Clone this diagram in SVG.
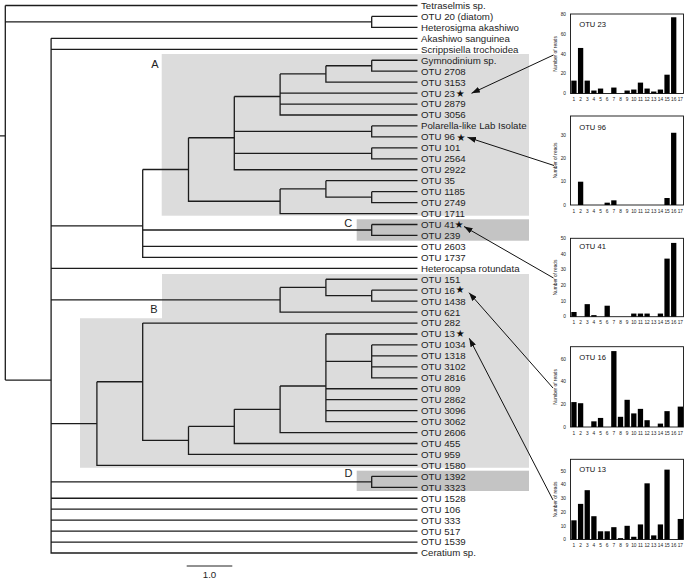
<svg xmlns="http://www.w3.org/2000/svg" width="685" height="580" viewBox="0 0 685 580">
<style>
.br{fill:none;stroke:#1c1c1c;stroke-width:1.3}
.lf{font-family:"Liberation Sans",Arial,sans-serif;font-size:9.7px;fill:#1e1e1e}
.st{font-family:"DejaVu Sans",sans-serif;font-size:10px;fill:#111;text-anchor:middle}
.cl{font-family:"Liberation Sans",Arial,sans-serif;font-size:11px;fill:#222;text-anchor:middle}
.lg{fill:#dcdcdc}
.dk{fill:#c4c4c4}
.box{fill:#fff;stroke:#111;stroke-width:0.9}
.bar{fill:#000}
.tk{font-family:"Liberation Sans",Arial,sans-serif;font-size:4.8px;fill:#222}
.tr{text-anchor:end}
.xm{text-anchor:middle}
.yl{font-family:"Liberation Sans",Arial,sans-serif;font-size:4.8px;fill:#222;text-anchor:middle}
.ttl{font-family:"Liberation Sans",Arial,sans-serif;font-size:7.6px;fill:#111}
.ar{fill:none;stroke:#111;stroke-width:1;marker-end:url(#ah)}
.sc{fill:none;stroke:#222;stroke-width:1}
</style>
<defs>
<marker id="ah" markerUnits="userSpaceOnUse" markerWidth="9" markerHeight="6" refX="8.5" refY="3" orient="auto">
<path d="M0,0 L8.5,3 L0,6 Z" fill="#111"/>
</marker>
</defs>
<rect width="685" height="580" fill="#fff"/>

<g id="clades">
<g id="clade-A"><rect class="lg" x="161.7" y="54" width="367.3" height="161.7"/><text class="cl" x="155" y="67.5">A</text></g>
<g id="clade-B"><path class="lg" d="M162 274 H529 V467.7 H80 V318.3 H162 Z"/><text class="cl" x="154" y="313">B</text></g>
<g id="clade-C"><rect class="dk" x="356.7" y="219.3" width="172.3" height="21.4"/><text class="cl" x="348.3" y="226.8">C</text></g>
<g id="clade-D"><rect class="dk" x="356.7" y="470.7" width="172.3" height="20.3"/><text class="cl" x="348.5" y="477">D</text></g>
</g>

<g id="connectors">
<g id="tree">
<path class="br" d="M5.3 5.5 V380.05 M5.3 5.5 H417.5 M5.3 21.93 H371.7 M5.3 380.05 H51.1 M0 135.83 H5.3"/>
<path class="br" d="M371.7 16.45 V27.4 H417.5 M371.7 16.45 H417.5"/>
<path class="br" d="M51.1 38.35 V553 H417.5 M51.1 38.35 H417.5 M51.1 49.3 H417.5 M51.1 225.8 H142.7 M51.1 268.3 H417.5 M51.1 299.78 H280.1 M51.1 423.57 H96.9 M51.1 481.83 H371.7 M51.1 498.25 H417.5 M51.1 509.2 H417.5 M51.1 520.15 H417.5 M51.1 531.1 H417.5 M51.1 542.05 H417.5"/>
<path class="br" d="M142.7 169.49 V257.35 H417.5 M142.7 169.49 H188.5 M142.7 229.98 H371.7 M142.7 246.4 H417.5"/>
<path class="br" d="M188.5 137.76 V201.23 H280.1 M188.5 137.76 H234.3"/>
<path class="br" d="M234.3 96.52 V169.75 H417.5 M234.3 96.52 H280.1 M234.3 131.43 H371.7 M234.3 153.33 H371.7"/>
<path class="br" d="M280.1 73.94 V115 H417.5 M280.1 73.94 H325.9 M280.1 93.1 H417.5 M280.1 104.05 H417.5"/>
<path class="br" d="M325.9 65.73 V82.15 H417.5 M325.9 65.73 H371.7"/>
<path class="br" d="M371.7 60.25 V71.2 H417.5 M371.7 60.25 H417.5"/>
<path class="br" d="M371.7 125.95 V136.9 H417.5 M371.7 125.95 H417.5"/>
<path class="br" d="M371.7 147.85 V158.8 H417.5 M371.7 147.85 H417.5"/>
<path class="br" d="M280.1 188.91 V213.55 H417.5 M280.1 188.91 H325.9"/>
<path class="br" d="M325.9 180.7 V197.13 H371.7 M325.9 180.7 H417.5"/>
<path class="br" d="M371.7 191.65 V202.6 H417.5 M371.7 191.65 H417.5"/>
<path class="br" d="M371.7 224.5 V235.45 H417.5 M371.7 224.5 H417.5"/>
<path class="br" d="M280.1 287.46 V312.1 H417.5 M280.1 287.46 H325.9"/>
<path class="br" d="M325.9 279.25 V295.68 H371.7 M325.9 279.25 H417.5"/>
<path class="br" d="M371.7 290.2 V301.15 H417.5 M371.7 290.2 H417.5"/>
<path class="br" d="M96.9 381.74 V465.4 H417.5 M96.9 381.74 H142.7"/>
<path class="br" d="M142.7 323.05 V440.42 H188.5 M142.7 323.05 H417.5"/>
<path class="br" d="M188.5 426.39 V454.45 H417.5 M188.5 426.39 H234.3"/>
<path class="br" d="M234.3 409.28 V443.5 H417.5 M234.3 409.28 H280.1"/>
<path class="br" d="M280.1 386.01 V432.55 H417.5 M280.1 386.01 H325.9"/>
<path class="br" d="M325.9 334 V421.6 H417.5 M325.9 334 H417.5 M325.9 361.38 H371.7 M325.9 388.75 H417.5 M325.9 399.7 H417.5 M325.9 410.65 H417.5"/>
<path class="br" d="M371.7 344.95 V377.8 H417.5 M371.7 344.95 H417.5 M371.7 355.9 H417.5 M371.7 366.85 H417.5"/>
<path class="br" d="M371.7 476.35 V487.3 H417.5 M371.7 476.35 H417.5"/>
</g>
<g id="arrows">
<line class="ar" x1="553.5" y1="55" x2="471.5" y2="93.3"/>
<line class="ar" x1="554" y1="165.5" x2="467.5" y2="137.3"/>
<line class="ar" x1="553.5" y1="278" x2="464" y2="226.5"/>
<line class="ar" x1="553" y1="388" x2="469" y2="292.7"/>
<line class="ar" x1="553" y1="500" x2="469.3" y2="338.3"/>
</g>
</g>

<g id="leaves">
<g id="l0"><text class="lf" x="421" y="8.9">Tetraselmis sp.</text></g>
<g id="l1"><text class="lf" x="421" y="19.85">OTU 20 (diatom)</text></g>
<g id="l2"><text class="lf" x="421" y="30.8">Heterosigma akashiwo</text></g>
<g id="l3"><text class="lf" x="421" y="41.75">Akashiwo sanguinea</text></g>
<g id="l4"><text class="lf" x="421" y="52.7">Scrippsiella trochoidea</text></g>
<g id="l5"><text class="lf" x="421" y="63.65">Gymnodinium sp.</text></g>
<g id="l6"><text class="lf" x="421" y="74.6">OTU 2708</text></g>
<g id="l7"><text class="lf" x="421" y="85.55">OTU 3153</text></g>
<g id="l8"><text class="lf" x="421" y="96.5">OTU 23</text><text class="st" x="460.3" y="96.8">★</text></g>
<g id="l9"><text class="lf" x="421" y="107.45">OTU 2879</text></g>
<g id="l10"><text class="lf" x="421" y="118.4">OTU 3056</text></g>
<g id="l11"><text class="lf" x="421" y="129.35">Polarella-like Lab Isolate</text></g>
<g id="l12"><text class="lf" x="421" y="140.3">OTU 96</text><text class="st" x="461" y="140.6">★</text></g>
<g id="l13"><text class="lf" x="421" y="151.25">OTU 101</text></g>
<g id="l14"><text class="lf" x="421" y="162.2">OTU 2564</text></g>
<g id="l15"><text class="lf" x="421" y="173.15">OTU 2922</text></g>
<g id="l16"><text class="lf" x="421" y="184.1">OTU 35</text></g>
<g id="l17"><text class="lf" x="421" y="195.05">OTU 1185</text></g>
<g id="l18"><text class="lf" x="421" y="206">OTU 2749</text></g>
<g id="l19"><text class="lf" x="421" y="216.95">OTU 1711</text></g>
<g id="l20"><text class="lf" x="421" y="227.9">OTU 41</text><text class="st" x="459" y="227.6">★</text></g>
<g id="l21"><text class="lf" x="421" y="238.85">OTU 239</text></g>
<g id="l22"><text class="lf" x="421" y="249.8">OTU 2603</text></g>
<g id="l23"><text class="lf" x="421" y="260.75">OTU 1737</text></g>
<g id="l24"><text class="lf" x="421" y="271.7">Heterocapsa rotundata</text></g>
<g id="l25"><text class="lf" x="421" y="282.65">OTU 151</text></g>
<g id="l26"><text class="lf" x="421" y="293.6">OTU 16</text><text class="st" x="460" y="293.3">★</text></g>
<g id="l27"><text class="lf" x="421" y="304.55">OTU 1438</text></g>
<g id="l28"><text class="lf" x="421" y="315.5">OTU 621</text></g>
<g id="l29"><text class="lf" x="421" y="326.45">OTU 282</text></g>
<g id="l30"><text class="lf" x="421" y="337.4">OTU 13</text><text class="st" x="460.3" y="337.4">★</text></g>
<g id="l31"><text class="lf" x="421" y="348.35">OTU 1034</text></g>
<g id="l32"><text class="lf" x="421" y="359.3">OTU 1318</text></g>
<g id="l33"><text class="lf" x="421" y="370.25">OTU 3102</text></g>
<g id="l34"><text class="lf" x="421" y="381.2">OTU 2816</text></g>
<g id="l35"><text class="lf" x="421" y="392.15">OTU 809</text></g>
<g id="l36"><text class="lf" x="421" y="403.1">OTU 2862</text></g>
<g id="l37"><text class="lf" x="421" y="414.05">OTU 3096</text></g>
<g id="l38"><text class="lf" x="421" y="425">OTU 3062</text></g>
<g id="l39"><text class="lf" x="421" y="435.95">OTU 2606</text></g>
<g id="l40"><text class="lf" x="421" y="446.9">OTU 455</text></g>
<g id="l41"><text class="lf" x="421" y="457.85">OTU 959</text></g>
<g id="l42"><text class="lf" x="421" y="468.8">OTU 1580</text></g>
<g id="l43"><text class="lf" x="421" y="479.75">OTU 1392</text></g>
<g id="l44"><text class="lf" x="421" y="490.7">OTU 3323</text></g>
<g id="l45"><text class="lf" x="421" y="501.65">OTU 1528</text></g>
<g id="l46"><text class="lf" x="421" y="512.6">OTU 106</text></g>
<g id="l47"><text class="lf" x="421" y="523.55">OTU 333</text></g>
<g id="l48"><text class="lf" x="421" y="534.5">OTU 517</text></g>
<g id="l49"><text class="lf" x="421" y="545.45">OTU 1539</text></g>
<g id="l50"><text class="lf" x="421" y="556.4">Ceratium sp.</text></g>
</g>

<g id="scalebar">
<path class="sc" d="M186.7 566 H232.3"/>
<text class="lf" x="209.5" y="578" text-anchor="middle" font-size="8.5">1.0</text>
</g>

<g id="chart-otu23">
<rect class="box" x="570.5" y="14" width="113" height="79.5"/>
<g class="bar" transform="translate(0,93.5) scale(1,-0.99)">
<rect x="571.3" y="0" width="5.3" height="13"/><rect x="577.95" y="0" width="5.3" height="46"/><rect x="584.6" y="0" width="5.3" height="13"/><rect x="591.25" y="0" width="5.3" height="3"/><rect x="597.9" y="0" width="5.3" height="5"/><rect x="611.2" y="0" width="5.3" height="6"/><rect x="624.5" y="0" width="5.3" height="3"/><rect x="631.15" y="0" width="5.3" height="4"/><rect x="637.8" y="0" width="5.3" height="11"/><rect x="644.45" y="0" width="5.3" height="5"/><rect x="651.1" y="0" width="5.3" height="2"/><rect x="657.75" y="0" width="5.3" height="4"/><rect x="664.4" y="0" width="5.3" height="19"/><rect x="671.05" y="0" width="5.3" height="77"/>
</g>
<text class="ttl" x="579.3" y="26.5">OTU 23</text>
<text class="yl" transform="translate(557.3,54) rotate(-90)">Number of reads</text>
<text class="tk tr"><tspan x="566" y="95.2">0</tspan><tspan x="566" y="75.4">20</tspan><tspan x="566" y="55.6">40</tspan><tspan x="566" y="35.8">60</tspan><tspan x="566" y="16">80</tspan></text>
<text class="tk xm" y="101"><tspan x="573.95">1</tspan><tspan x="580.6">2</tspan><tspan x="587.25">3</tspan><tspan x="593.9">4</tspan><tspan x="600.55">5</tspan><tspan x="607.2">6</tspan><tspan x="613.85">7</tspan><tspan x="620.5">8</tspan><tspan x="627.15">9</tspan><tspan x="633.8">10</tspan><tspan x="640.45">11</tspan><tspan x="647.1">12</tspan><tspan x="653.75">13</tspan><tspan x="660.4">14</tspan><tspan x="667.05">15</tspan><tspan x="673.7">16</tspan><tspan x="680.35">17</tspan></text>
</g>

<g id="chart-otu96">
<rect class="box" x="570.5" y="116" width="113" height="89"/>
<g class="bar" transform="translate(0,205) scale(1,-2.33)">
<rect x="577.95" y="0" width="5.3" height="10"/><rect x="604.55" y="0" width="5.3" height="1"/><rect x="611.2" y="0" width="5.3" height="2"/><rect x="664.4" y="0" width="5.3" height="3"/><rect x="671.05" y="0" width="5.3" height="31"/>
</g>
<text class="ttl" x="579.3" y="129.5">OTU 96</text>
<text class="yl" transform="translate(557.3,160.5) rotate(-90)">Number of reads</text>
<text class="tk tr"><tspan x="566" y="206.7">0</tspan><tspan x="566" y="183.4">10</tspan><tspan x="566" y="160.1">20</tspan><tspan x="566" y="136.8">30</tspan></text>
<text class="tk xm" y="212.5"><tspan x="573.95">1</tspan><tspan x="580.6">2</tspan><tspan x="587.25">3</tspan><tspan x="593.9">4</tspan><tspan x="600.55">5</tspan><tspan x="607.2">6</tspan><tspan x="613.85">7</tspan><tspan x="620.5">8</tspan><tspan x="627.15">9</tspan><tspan x="633.8">10</tspan><tspan x="640.45">11</tspan><tspan x="647.1">12</tspan><tspan x="653.75">13</tspan><tspan x="660.4">14</tspan><tspan x="667.05">15</tspan><tspan x="673.7">16</tspan><tspan x="680.35">17</tspan></text>
</g>

<g id="chart-otu41">
<rect class="box" x="570.5" y="238.3" width="113" height="78.4"/>
<g class="bar" transform="translate(0,316.7) scale(1,-1.57)">
<rect x="571.3" y="0" width="5.3" height="3"/><rect x="584.6" y="0" width="5.3" height="8"/><rect x="591.25" y="0" width="5.3" height="1"/><rect x="604.55" y="0" width="5.3" height="7"/><rect x="631.15" y="0" width="5.3" height="2"/><rect x="637.8" y="0" width="5.3" height="2"/><rect x="644.45" y="0" width="5.3" height="2"/><rect x="657.75" y="0" width="5.3" height="2"/><rect x="664.4" y="0" width="5.3" height="37"/><rect x="671.05" y="0" width="5.3" height="47"/>
</g>
<text class="ttl" x="579.3" y="248.5">OTU 41</text>
<text class="yl" transform="translate(557.3,277.5) rotate(-90)">Number of reads</text>
<text class="tk tr"><tspan x="566" y="318.4">0</tspan><tspan x="566" y="302.7">10</tspan><tspan x="566" y="287">20</tspan><tspan x="566" y="271.3">30</tspan><tspan x="566" y="255.6">40</tspan><tspan x="566" y="239.9">50</tspan></text>
<text class="tk xm" y="324.2"><tspan x="573.95">1</tspan><tspan x="580.6">2</tspan><tspan x="587.25">3</tspan><tspan x="593.9">4</tspan><tspan x="600.55">5</tspan><tspan x="607.2">6</tspan><tspan x="613.85">7</tspan><tspan x="620.5">8</tspan><tspan x="627.15">9</tspan><tspan x="633.8">10</tspan><tspan x="640.45">11</tspan><tspan x="647.1">12</tspan><tspan x="653.75">13</tspan><tspan x="660.4">14</tspan><tspan x="667.05">15</tspan><tspan x="673.7">16</tspan><tspan x="680.35">17</tspan></text>
</g>

<g id="chart-otu16">
<rect class="box" x="570.5" y="346.7" width="113" height="80.3"/>
<g class="bar" transform="translate(0,427) scale(1,-1.133)">
<rect x="571.3" y="0" width="5.3" height="22"/><rect x="577.95" y="0" width="5.3" height="21"/><rect x="591.25" y="0" width="5.3" height="5"/><rect x="597.9" y="0" width="5.3" height="8"/><rect x="611.2" y="0" width="5.3" height="67"/><rect x="617.85" y="0" width="5.3" height="9"/><rect x="624.5" y="0" width="5.3" height="24"/><rect x="631.15" y="0" width="5.3" height="12"/><rect x="637.8" y="0" width="5.3" height="16"/><rect x="644.45" y="0" width="5.3" height="6"/><rect x="657.75" y="0" width="5.3" height="3"/><rect x="664.4" y="0" width="5.3" height="14"/><rect x="677.7" y="0" width="5.3" height="18"/>
</g>
<text class="ttl" x="579.3" y="359.5">OTU 16</text>
<text class="yl" transform="translate(557.3,387) rotate(-90)">Number of reads</text>
<text class="tk tr"><tspan x="566" y="428.7">0</tspan><tspan x="566" y="406">20</tspan><tspan x="566" y="383.4">40</tspan><tspan x="566" y="360.7">60</tspan></text>
<text class="tk xm" y="434.5"><tspan x="573.95">1</tspan><tspan x="580.6">2</tspan><tspan x="587.25">3</tspan><tspan x="593.9">4</tspan><tspan x="600.55">5</tspan><tspan x="607.2">6</tspan><tspan x="613.85">7</tspan><tspan x="620.5">8</tspan><tspan x="627.15">9</tspan><tspan x="633.8">10</tspan><tspan x="640.45">11</tspan><tspan x="647.1">12</tspan><tspan x="653.75">13</tspan><tspan x="660.4">14</tspan><tspan x="667.05">15</tspan><tspan x="673.7">16</tspan><tspan x="680.35">17</tspan></text>
</g>

<g id="chart-otu13">
<rect class="box" x="570.5" y="459.3" width="113" height="80.2"/>
<g class="bar" transform="translate(0,539.5) scale(1,-1.37)">
<rect x="571.3" y="0" width="5.3" height="14"/><rect x="577.95" y="0" width="5.3" height="26"/><rect x="584.6" y="0" width="5.3" height="36"/><rect x="591.25" y="0" width="5.3" height="17"/><rect x="597.9" y="0" width="5.3" height="6"/><rect x="604.55" y="0" width="5.3" height="6"/><rect x="611.2" y="0" width="5.3" height="9"/><rect x="617.85" y="0" width="5.3" height="1"/><rect x="624.5" y="0" width="5.3" height="10"/><rect x="631.15" y="0" width="5.3" height="2"/><rect x="637.8" y="0" width="5.3" height="11"/><rect x="644.45" y="0" width="5.3" height="41"/><rect x="651.1" y="0" width="5.3" height="3"/><rect x="657.75" y="0" width="5.3" height="11"/><rect x="664.4" y="0" width="5.3" height="51"/><rect x="677.7" y="0" width="5.3" height="15"/>
</g>
<text class="ttl" x="579.3" y="471.5">OTU 13</text>
<text class="yl" transform="translate(557.3,499.4) rotate(-90)">Number of reads</text>
<text class="tk tr"><tspan x="566" y="541.2">0</tspan><tspan x="566" y="527.5">10</tspan><tspan x="566" y="513.8">20</tspan><tspan x="566" y="500.1">30</tspan><tspan x="566" y="486.4">40</tspan><tspan x="566" y="472.7">50</tspan></text>
<text class="tk xm" y="547"><tspan x="573.95">1</tspan><tspan x="580.6">2</tspan><tspan x="587.25">3</tspan><tspan x="593.9">4</tspan><tspan x="600.55">5</tspan><tspan x="607.2">6</tspan><tspan x="613.85">7</tspan><tspan x="620.5">8</tspan><tspan x="627.15">9</tspan><tspan x="633.8">10</tspan><tspan x="640.45">11</tspan><tspan x="647.1">12</tspan><tspan x="653.75">13</tspan><tspan x="660.4">14</tspan><tspan x="667.05">15</tspan><tspan x="673.7">16</tspan><tspan x="680.35">17</tspan></text>
</g>
</svg>
